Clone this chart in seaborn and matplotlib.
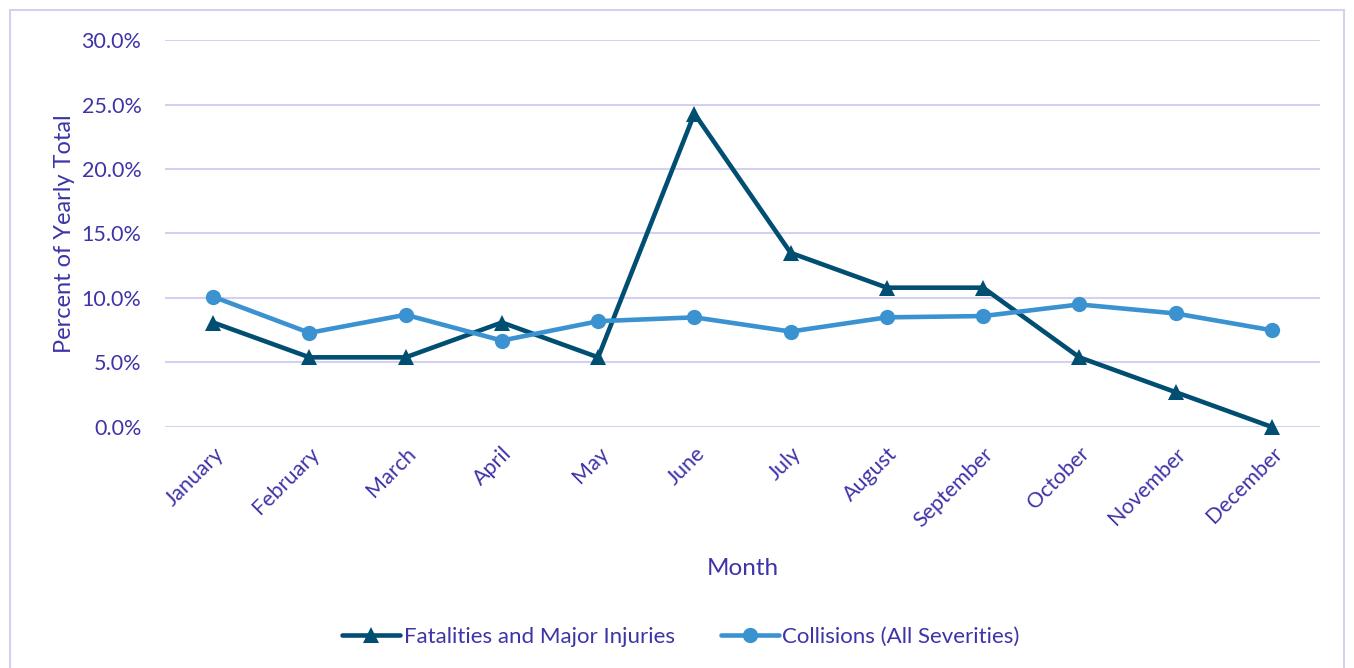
import matplotlib
matplotlib.use("Agg")
import matplotlib.pyplot as plt
import seaborn as sns
import pandas as pd
from matplotlib.ticker import PercentFormatter
from matplotlib.patches import Rectangle

months = ["January", "February", "March", "April", "May", "June", "July",
          "August", "September", "October", "November", "December"]
fatalities = [8.1, 5.4, 5.4, 8.1, 5.4, 24.3, 13.5, 10.8, 10.8, 5.4, 2.7, 0.0]
collisions = [10.1, 7.3, 8.7, 6.7, 8.2, 8.5, 7.4, 8.5, 8.6, 9.5, 8.8, 7.5]
series_names = ["Fatalities and Major Injuries", "Collisions (All Severities)"]
y_ticks = [0, 5, 10, 15, 20, 25, 30]

text_color = "#3D34A8"
grid_color = "#D3D0F0"
dark_blue = "#004E72"
light_blue = "#3A93D0"

sns.set_theme(style="white")
plt.rcParams["font.family"] = ["Lato", "DejaVu Sans"]

df = pd.DataFrame({
    "Month": months * 2,
    "Percent": fatalities + collisions,
    "Series": [series_names[0]] * 12 + [series_names[1]] * 12,
})

fig = plt.figure(figsize=(13.54, 6.68), dpi=100)
ax = fig.add_axes([0.1219, 0.3608, 0.853, 0.5793])

sns.lineplot(data=df[df.Series == series_names[0]], x="Month", y="Percent",
             sort=False, color=dark_blue, lw=3.3, marker="^", markersize=11,
             markeredgewidth=0, label=series_names[0], ax=ax, zorder=3,
             clip_on=False)
sns.lineplot(data=df[df.Series == series_names[1]], x="Month", y="Percent",
             sort=False, color=light_blue, lw=3.3, marker="o", markersize=11,
             markeredgewidth=0, label=series_names[1], ax=ax, zorder=4,
             clip_on=False)

ax.set_xlim(-0.5, 11.5)
ax.set_ylim(0, 30)
ax.set_yticks(y_ticks)
ax.yaxis.set_major_formatter(PercentFormatter(decimals=1))
ax.grid(axis="y", color=grid_color, lw=1.5)
ax.set_axisbelow(True)
for s in ax.spines.values():
    s.set_visible(False)

ax.tick_params(axis="both", colors=text_color, labelsize=15.5, length=0)
ax.tick_params(axis="y", pad=17)
ax.set_xticks(range(len(months)))
ax.set_xticklabels(months, rotation=45, ha="right", rotation_mode="anchor")
ax.tick_params(axis="x", pad=12)

ax.set_xlabel("Month", color=text_color, fontsize=17.5, labelpad=20)
ax.set_ylabel("Percent of Yearly Total", color=text_color, fontsize=17, labelpad=5)

ax.legend(loc="upper center", bbox_to_anchor=(0.503, 0.092),
          bbox_transform=fig.transFigure, ncol=2, frameon=False,
          fontsize=16, labelcolor=text_color, handlelength=2.6, handletextpad=0.15,
          columnspacing=2.1)

fig.patches.append(Rectangle((10 / 1354, -0.02), 1334 / 1354, 1.005,
                             transform=fig.transFigure, fill=False,
                             edgecolor=grid_color, lw=1.5))

fig.savefig("out.png", dpi=100)
